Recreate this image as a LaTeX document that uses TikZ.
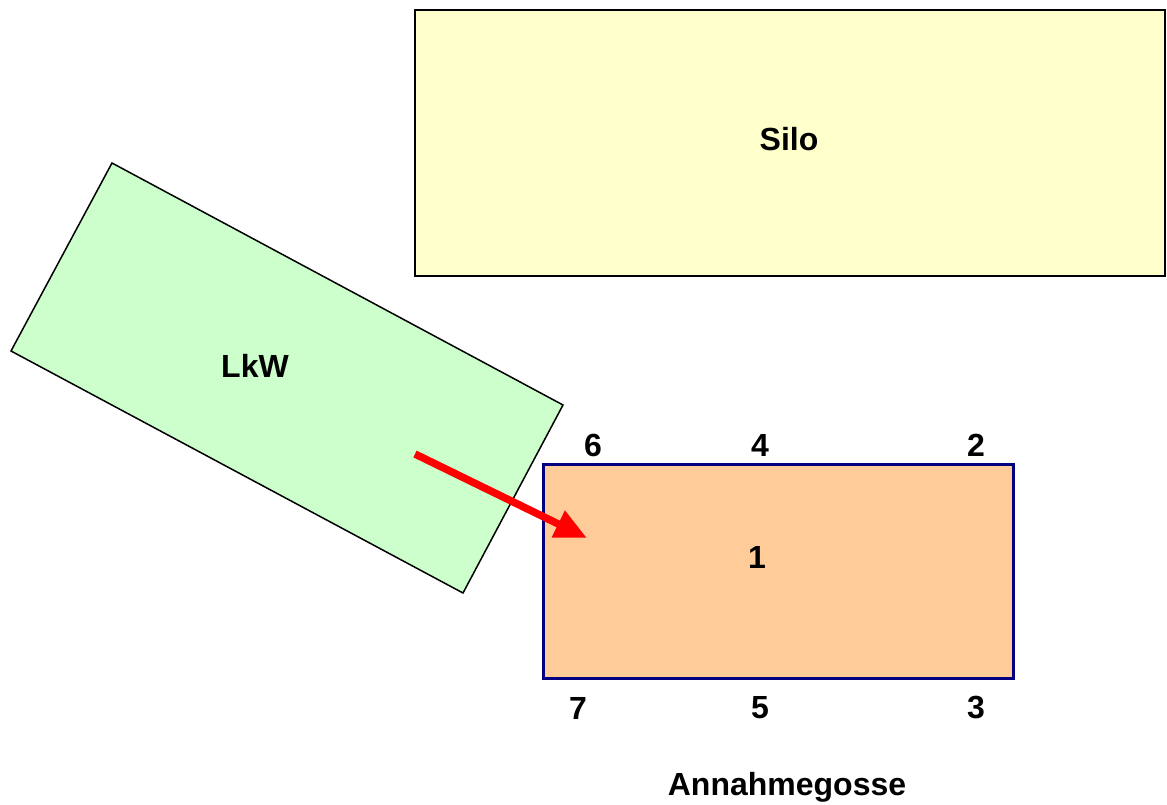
\documentclass[tikz,border=0pt]{standalone}
\usepackage{fontspec}
\setmainfont{Liberation Sans}
\usetikzlibrary{arrows.meta}
\definecolor{siloyellow}{HTML}{FFFFCC}
\definecolor{lkwgreen}{HTML}{CCFFCC}
\definecolor{gosseorange}{HTML}{FFCC99}
\definecolor{gossenavy}{HTML}{000080}
\begin{document}
\begin{tikzpicture}[x=1pt,y=-1pt,
  lbl/.style={font=\fontsize{32}{38}\selectfont\bfseries, inner sep=0pt, anchor=center},
  box/.style={draw=black, line width=1.5pt}]
\useasboundingbox (0,0) rectangle (1167,805);
% Silo
\draw[box, fill=siloyellow] (415,10) rectangle (1165,276);
\node[lbl] (silo) at (789,139) {Silo};
% LkW
\draw[box, fill=lkwgreen] (112,163) -- (563,405) -- (463,593) -- (11,351) -- cycle;
\node[lbl] (lkw) at (255,366) {LkW};
% Annahmegosse
\draw[draw=gossenavy, line width=3pt, fill=gosseorange] (543,464) rectangle (1013,678);
\node[lbl] (g1) at (757,557) {1};
\node[lbl] (g6) at (593,445) {6};
\node[lbl] (g4) at (760,445) {4};
\node[lbl] (g2) at (976,445) {2};
\node[lbl] (g7) at (578,708) {7};
\node[lbl] (g5) at (760,708) {5};
\node[lbl] (g3) at (976,708) {3};
\node[lbl] (name) at (787,787) {Annahmegosse};
% arrow
\coordinate (as) at (415,454);
\coordinate (ae) at (587,538);
\draw[red, line width=7.5pt, -{Triangle[length=32pt,width=28pt]}] (as) -- (ae);
\end{tikzpicture}
\end{document}
